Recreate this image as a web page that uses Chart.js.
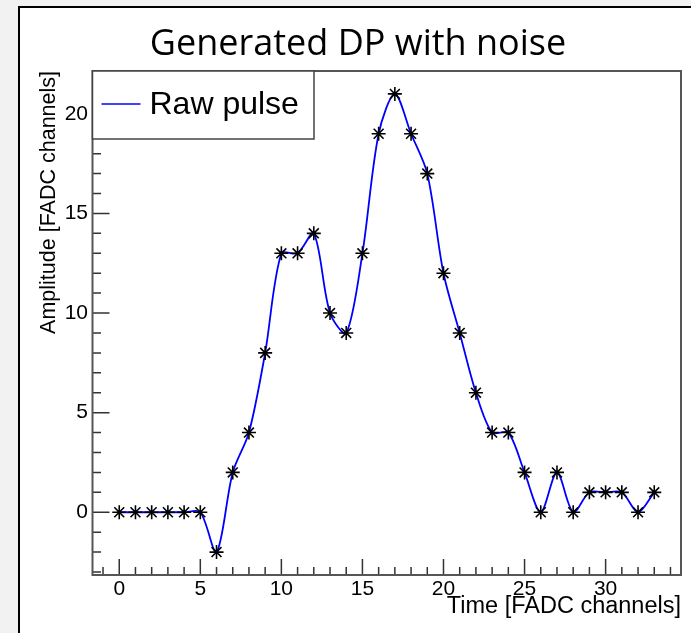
<!DOCTYPE html>
<html>
<head>
<meta charset="utf-8">
<script src="https://cdn.jsdelivr.net/npm/chart.js@4.4.1/dist/chart.umd.min.js"></script>
<style>
  html, body { margin: 0; padding: 0; background: #f2f2f2; }
  body { width: 691px; height: 633px; position: relative; overflow: hidden; }
  #panel { position: absolute; left: 18px; top: 6px; width: 700px; height: 700px;
           background: #fff; border-left: 2px solid #000; border-top: 2px solid #000; }
  #myChart { position: absolute; left: 0; top: 0; }
</style>
</head>
<body>
<div id="panel"></div>
<canvas id="myChart" width="691" height="633"></canvas>
<script>
// pulse samples
const tempos = [0, 1, 2, 3, 4, 5, 6, 7, 8, 9, 10, 11, 12, 13, 14, 15, 16,
                17, 18, 19, 20, 21, 22, 23, 24, 25, 26, 27, 28, 29, 30, 31, 32, 33];
const amplitudes = [0, 0, 0, 0, 0, 0, -2, 2, 4, 8, 13, 13, 14, 10, 9, 13, 19,
                    21, 19, 17, 12, 9, 6, 4, 4, 2, 0, 2, 0, 1, 1, 1, 0, 1];
const xTicks = [0, 5, 10, 15, 20, 25, 30];
const yTicks = [0, 5, 10, 15, 20];

const tituloGrafico = 'Generated DP with noise';
const nomeSerie = 'Raw pulse';

document.addEventListener("DOMContentLoaded", function () {

    var rootFrame = {
        id: 'rootFrame',
        afterDatasetsDraw: function (chart) {
            var ctx = chart.ctx;
            var a = chart.chartArea;
            var x = chart.scales.x;
            var y = chart.scales.y;
            ctx.save();

            // inward ticks, ROOT style
            ctx.strokeStyle = '#333';
            ctx.lineWidth = 1.5;
            ctx.beginPath();
            for (var v = Math.ceil(x.min); v <= x.max; v++) {
                var px = x.getPixelForValue(v);
                var len = (v % 5 === 0) ? 16 : 8;
                ctx.moveTo(px, a.bottom);
                ctx.lineTo(px, a.bottom - len);
            }
            for (var w = Math.ceil(y.min); w <= y.max; w++) {
                var py = y.getPixelForValue(w);
                var len2 = (w % 5 === 0) ? 17 : 8.5;
                ctx.moveTo(a.left, py);
                ctx.lineTo(a.left + len2, py);
            }
            ctx.stroke();

            // frame
            ctx.strokeStyle = '#555';
            ctx.lineWidth = 2;
            ctx.strokeRect(a.left, a.top, a.right - a.left, a.bottom - a.top);

            // legend box
            var lw = 221.5, lh = 68;
            ctx.fillStyle = '#fff';
            ctx.fillRect(a.left, a.top, lw, lh);
            ctx.strokeStyle = '#444';
            ctx.lineWidth = 1.5;
            ctx.strokeRect(a.left, a.top, lw, lh);
            var ds = chart.data.datasets[0];
            ctx.strokeStyle = ds.borderColor;
            ctx.lineWidth = 1.5;
            ctx.beginPath();
            ctx.moveTo(a.left + 9, a.top + 33);
            ctx.lineTo(a.left + 48, a.top + 33);
            ctx.stroke();
            ctx.fillStyle = '#000';
            ctx.font = '32px "Liberation Sans", Arial, sans-serif';
            ctx.textBaseline = 'alphabetic';
            ctx.textAlign = 'left';
            ctx.fillText(ds.label, a.left + 57, a.top + 43);

            ctx.restore();
        },
        afterDraw: function (chart) {
            var ctx = chart.ctx;
            ctx.save();
            ctx.fillStyle = '#000';
            ctx.font = '36px "Open Sans", sans-serif';
            ctx.textAlign = 'center';
            ctx.textBaseline = 'alphabetic';
            ctx.fillText(tituloGrafico, 358, 55);
            ctx.restore();
        }
    };

    var pontos = tempos.map(function (t, i) { return { x: t, y: amplitudes[i] }; });

    var ctx = document.getElementById('myChart').getContext('2d');
    var myChart = new Chart(ctx, {
        type: 'line',
        data: {
            datasets: [{
                label: nomeSerie,
                data: pontos,
                borderColor: '#0000ff',
                borderWidth: 1.8,
                tension: 0.3,
                pointStyle: 'star',
                pointRadius: 7,
                pointBorderColor: '#000',
                pointBackgroundColor: '#000',
                pointBorderWidth: 1.6
            }]
        },
        options: {
            responsive: false,
            animation: false,
            layout: { padding: { top: 71, right: 10, left: 0, bottom: 0 } },
            plugins: {
                legend: { display: false },
                tooltip: { enabled: false }
            },
            scales: {
                x: {
                    type: 'linear',
                    min: -1.65,
                    max: 34.65,
                    grid: { display: false, drawTicks: false },
                    border: { display: false },
                    afterBuildTicks: function (scale) {
                        scale.ticks = xTicks.map(function (v) { return { value: v }; });
                    },
                    afterFit: function (scale) { scale.height = 58; },
                    ticks: {
                        color: '#000',
                        padding: 2,
                        maxRotation: 0,
                        font: { family: '"Liberation Sans", Arial, sans-serif', size: 21 }
                    },
                    title: {
                        display: true,
                        text: 'Time [FADC channels]',
                        align: 'end',
                        color: '#000',
                        padding: { top: 0, bottom: 12 },
                        font: { family: '"Liberation Sans", Arial, sans-serif', size: 23.5 }
                    }
                },
                y: {
                    min: -3.15,
                    max: 22.15,
                    grid: { display: false, drawTicks: false },
                    border: { display: false },
                    afterBuildTicks: function (scale) {
                        scale.ticks = yTicks.map(function (v) { return { value: v }; });
                    },
                    afterFit: function (scale) { scale.width = 92.5; },
                    ticks: {
                        color: '#000',
                        padding: 4.5,
                        font: { family: '"Liberation Sans", Arial, sans-serif', size: 21 }
                    },
                    title: {
                        display: true,
                        text: 'Amplitude [FADC channels]',
                        align: 'end',
                        color: '#000',
                        padding: { top: 36, bottom: 0 },
                        font: { family: '"Liberation Sans", Arial, sans-serif', size: 21.5 }
                    }
                }
            }
        },
        plugins: [rootFrame]
    });
});
</script>
</body>
</html>
